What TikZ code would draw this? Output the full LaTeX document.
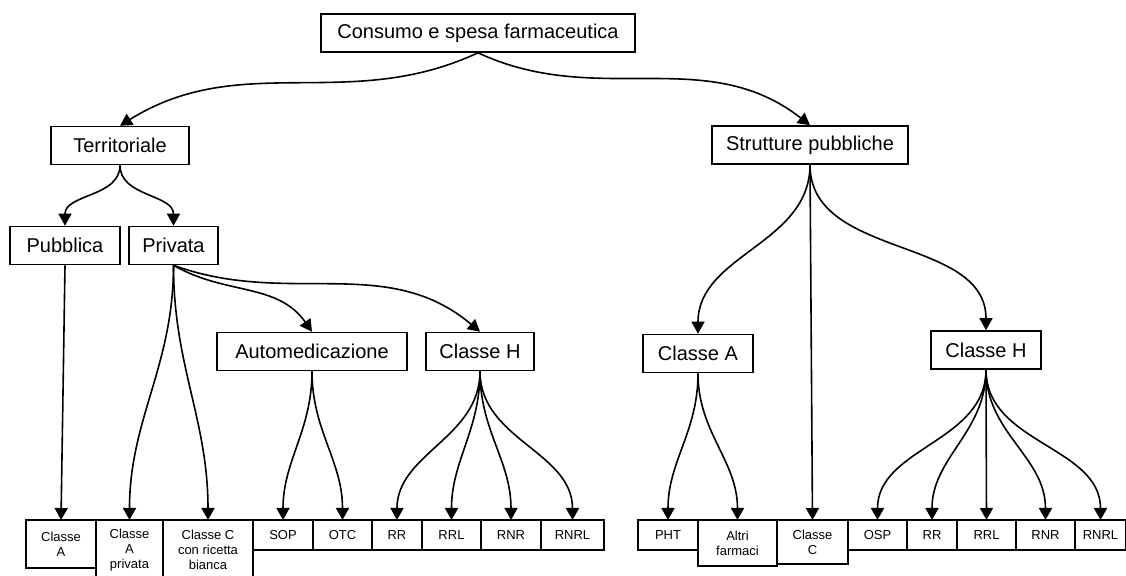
\documentclass[tikz,border=0pt]{standalone}
\usepackage{fontspec}
\setmainfont{Liberation Sans}
\usetikzlibrary{arrows.meta,positioning}

\begin{document}
\begin{tikzpicture}[x=0.5pt, y=-0.5pt, line width=0.8pt,
  box/.style={rectangle, draw, minimum height=19pt, inner sep=0pt, font=\fontsize{10}{12}\selectfont},
  cell/.style={rectangle, draw, minimum height=15pt, inner sep=0pt, outer sep=0pt, align=center, anchor=north west, font=\fontsize{6.5}{7.5}\selectfont},
  after/.style={right=0pt of #1.north east, anchor=north west},
  link/.style={-{Triangle[width=6.5pt,length=6pt]}}]
\useasboundingbox (0,0) rectangle (1126,576);
\node[box, minimum width=157pt] (consumo) at (478,33) {Consumo e spesa farmaceutica};
\node[box, minimum width=69pt] (terr) at (120,145.5) {Territoriale};
\node[box, minimum width=98pt] (strut) at (810,145) {Strutture pubbliche};
\node[box, minimum width=55pt] (pubb) at (65,245.5) {Pubblica};
\node[box, minimum width=44.5pt] (priv) at (173.5,245.5) {Privata};
\node[box, minimum width=95pt] (auto) at (312,351.5) {Automedicazione};
\node[box, minimum width=54pt] (privH) at (480,351.5) {Classe H};
\node[box, minimum width=55pt] (strA) at (698,353.5) {Classe A};
\node[box, minimum width=55pt] (strH) at (986,350) {Classe H};

\node[cell, minimum width=35pt, minimum height=24pt] (lA) at (26,520) {Classe\\A};
\node[cell, minimum width=33.5pt, minimum height=30pt, after=lA] (lApriv) {Classe\\A\\privata};
\node[cell, minimum width=45pt, minimum height=30pt, after=lApriv] (lC) {Classe C\\con ricetta\\bianca};
\node[cell, minimum width=30pt, after=lC] (lSOP) {SOP};
\node[cell, minimum width=29.5pt, after=lSOP] (lOTC) {OTC};
\node[cell, minimum width=25pt, after=lOTC] (lRR) {RR};
\node[cell, minimum width=29.5pt, after=lRR] (lRRL) {RRL};
\node[cell, minimum width=30pt, after=lRRL] (lRNR) {RNR};
\node[cell, minimum width=31.5pt, after=lRNR] (lRNRL) {RNRL};

\node[cell, minimum width=30pt] (rPHT) at (638,520) {PHT};
\node[cell, minimum width=39.5pt, minimum height=23pt, after=rPHT] (rAltri) {Altri\\farmaci};
\node[cell, minimum width=35.5pt, minimum height=22pt, after=rAltri] (rC) {Classe\\C};
\node[cell, minimum width=29.5pt, after=rC] (rOSP) {OSP};
\node[cell, minimum width=25pt, after=rOSP] (rRR) {RR};
\node[cell, minimum width=29.5pt, after=rRR] (rRRL) {RRL};
\node[cell, minimum width=29.5pt, after=rRRL] (rRNR) {RNR};
\node[cell, minimum width=25.5pt, after=rRNR] (rRNRL) {RNRL};

\draw[link] (consumo.south) to[out=-155,in=32] (terr.north);
\draw[link] (consumo.south) to[out=-25,in=142] (strut.north);
\draw[link] (terr.south) to[out=-90,in=90] (pubb.north);
\draw[link] (terr.south) to[out=-90,in=90] (priv.north);
\draw[link] (pubb.south) -- (lA.north);
\draw[link] (priv.south) to[out=-90,in=90] (lApriv.north);
\draw[link] (priv.south) to[out=-90,in=90] (lC.north);
\draw[link] (priv.south) to[out=-30,in=125] (auto.north);
\draw[link] (priv.south) to[out=-20,in=140] (privH.north);
\draw[link] (auto.south) to[out=-90,in=90] (lSOP.north);
\draw[link] (auto.south) to[out=-90,in=90] (lOTC.north);
\draw[link] (privH.south) to[out=-90,in=90] (lRR.north);
\draw[link] (privH.south) to[out=-90,in=90] (lRRL.north);
\draw[link] (privH.south) to[out=-90,in=90] (lRNR.north);
\draw[link] (privH.south) to[out=-90,in=90] (lRNRL.north);
\draw[link] (strut.south) to[out=-90,in=90] (strA.north);
\draw[link] (strut.south) -- (rC.north);
\draw[link] (strut.south) to[out=-90,in=90] (strH.north);
\draw[link] (strA.south) to[out=-90,in=90] (rPHT.north);
\draw[link] (strA.south) to[out=-90,in=90] (rAltri.north);
\draw[link] (strH.south) to[out=-90,in=90] (rOSP.north);
\draw[link] (strH.south) to[out=-90,in=90] (rRR.north);
\draw[link] (strH.south) -- (rRRL.north);
\draw[link] (strH.south) to[out=-90,in=90] (rRNR.north);
\draw[link] (strH.south) to[out=-90,in=90] (rRNRL.north);
\end{tikzpicture}
\end{document}
